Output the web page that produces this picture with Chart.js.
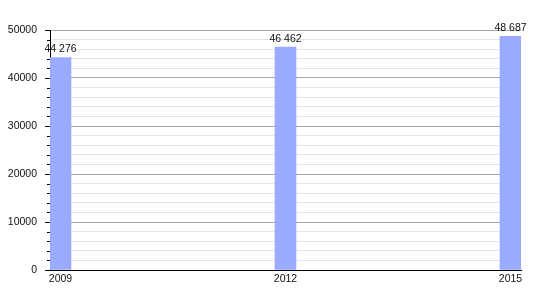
<!DOCTYPE html>
<html>
<head>
<meta charset="utf-8">
<script src="https://cdn.jsdelivr.net/npm/chart.js@4"></script>
<style>
  body { margin: 0; background: #fff; }
  #wrap { width: 550px; height: 300px; }
</style>
</head>
<body>
<div id="wrap"><canvas id="myChart" width="550" height="300"></canvas></div>
<script>
const years = [2009, 2012, 2015];
const population = [44276, 46462, 48687];
const yearTicks = [2009, 2012, 2015];

const FONT = "'Liberation Sans', Arial, sans-serif";

// groups digits with a space: 44276 -> "44 276"
function fmt(v) {
  return String(v).replace(/\B(?=(\d{3})+(?!\d))/g, " ");
}

// value labels above bars + y axis tick marks (major long, minor short)
const extras = {
  id: "extras",
  afterDatasetsDraw(chart) {
    const ctx = chart.ctx;
    const meta = chart.getDatasetMeta(0);
    ctx.save();
    ctx.font = "10.5px " + FONT;
    ctx.fillStyle = "#111";
    ctx.textAlign = "center";
    ctx.textBaseline = "bottom";
    meta.data.forEach(function (bar, i) {
      ctx.fillText(fmt(population[i]), bar.x, bar.y - 3);
    });

    const y = chart.scales.y;
    ctx.strokeStyle = "#000";
    ctx.lineWidth = 1;
    y.ticks.forEach(function (t) {
      const py = Math.round(y.getPixelForValue(t.value)) + 0.5;
      const len = t.value % 10000 === 0 ? 5 : 3;
      ctx.beginPath();
      ctx.moveTo(y.right - len, py);
      ctx.lineTo(y.right, py);
      ctx.stroke();
    });
    ctx.restore();
  }
};

new Chart(document.getElementById("myChart"), {
  type: "bar",
  data: {
    datasets: [{
      data: years.map((yr, i) => ({ x: yr, y: population[i] })),
      backgroundColor: "#9aabff",
      borderWidth: 0,
      barThickness: 21
    }]
  },
  options: {
    responsive: false,
    animation: false,
    layout: { padding: { top: 30, right: 29, left: 0, bottom: 0 } },
    plugins: { legend: { display: false }, tooltip: { enabled: false } },
    scales: {
      x: {
        type: "linear",
        offset: false,
        min: 2008.86,
        max: 2015.14,
        afterBuildTicks: s => { s.ticks = yearTicks.map(v => ({ value: v })); },
        afterFit: s => { s.height = 30; },
        grid: { display: false, drawTicks: false },
        border: { display: true, color: "#000", width: 1 },
        ticks: {
          color: "#111",
          font: { family: FONT, size: 10.5 },
          padding: 3,
          maxRotation: 0,
          callback: v => String(v)
        }
      },
      y: {
        min: 0,
        max: 50000,
        afterFit: s => { s.width = 50; },
        grid: {
          drawTicks: false,
          color: c => (c.tick && c.tick.value % 10000 === 0) ? "#a6a6a6" : "#e4e4e4"
        },
        border: { display: true, color: "#000", width: 1 },
        ticks: {
          stepSize: 2000,
          autoSkip: false,
          color: "#111",
          font: { family: FONT, size: 10.5 },
          padding: 13,
          callback: v => v % 10000 === 0 ? String(v) : ""
        }
      }
    }
  },
  plugins: [extras]
});
</script>
</body>
</html>
